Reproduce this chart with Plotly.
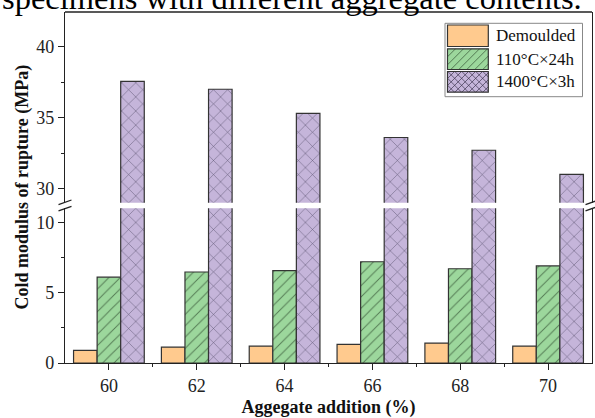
import plotly.graph_objects as go

# ---------------- data ----------------
aggregate = [60, 62, 64, 66, 68, 70]
demoulded = [0.9, 1.13, 1.2, 1.32, 1.42, 1.2]
dried_110 = [6.1, 6.47, 6.57, 7.2, 6.7, 6.9]
fired_1400 = [37.55, 37.0, 35.3, 33.6, 32.7, 31.0]
series_names = ["Demoulded", "110°C×24h", "1400°C×3h"]

# ---------------- style ----------------
FONT = "Liberation Serif"
C_OR = "#FFCA8E"
C_GR = "#9CD79C"
C_PU = "#C5B5DA"
EDGE = "#333333"

# plot area in pixels
L, R, T, B = 65, 592, 12, 363
W, H = R - L, B - T


def px(x):
    return (x - L) / W


def py(y):
    return (B - y) / H


low_dom = [0, py(208.3)]
up_dom = [py(202.7), 1]

fig = go.Figure()

patterns = [
    dict(shape=""),
    dict(shape="/", size=8, solidity=0.12, fgcolor="#3a5a3a", fgopacity=0.75),
    dict(shape="x", size=10, solidity=0.1, fgcolor="#3d3550", fgopacity=0.75),
]
colors = [C_OR, C_GR, C_PU]
values = [demoulded, dried_110, fired_1400]

for yax in ["y", "y2"]:
    for name, vals, col, pat in zip(series_names, values, colors, patterns):
        fig.add_trace(go.Bar(
            x=aggregate, y=vals, name=name, yaxis=yax, xaxis="x",
            marker=dict(color=col, line=dict(color=EDGE, width=1.2), pattern=pat),
            showlegend=False,
        ))

axis_font = dict(family=FONT, size=18, color="#222")
fig.update_layout(
    width=595, height=418,
    margin=dict(l=L, r=595 - R, t=T, b=418 - B),
    paper_bgcolor="white", plot_bgcolor="white",
    barmode="group", bargap=0.195, bargroupgap=0,
    showlegend=False,
    font=dict(family=FONT, size=18, color="#222"),
    xaxis=dict(
        range=[59, 71], tickvals=aggregate, ticks="outside", ticklen=6,
        tickwidth=1.2, tickcolor="#222", showline=True, linecolor="#222",
        linewidth=1.3, showgrid=False, zeroline=False, tickfont=axis_font,
        minor=dict(tickvals=[61, 63, 65, 67, 69], ticks="outside", ticklen=3,
                   tickcolor="#222", tickwidth=1.2),
        title=dict(text="<b>Aggegate addition (%)</b>", font=dict(family=FONT, size=18, color="#111"),
                   standoff=6),
        anchor="y",
    ),
    yaxis=dict(
        domain=low_dom, range=[0, 11], tickvals=[0, 5, 10], ticks="outside",
        ticklen=6, tickwidth=1.2, tickcolor="#222", showline=True,
        linecolor="#222", linewidth=1.3, mirror=True, showgrid=False,
        zeroline=False, tickfont=axis_font,
        minor=dict(tickvals=[2.5, 7.5], ticks="outside", ticklen=3,
                   tickcolor="#222", tickwidth=1.2),
    ),
    yaxis2=dict(
        domain=up_dom, range=[29, 42.45], tickvals=[30, 35, 40], ticks="outside",
        ticklen=6, tickwidth=1.2, tickcolor="#222", showline=True,
        linecolor="#222", linewidth=1.3, mirror=True, showgrid=False,
        zeroline=False, tickfont=axis_font, anchor="x",
        minor=dict(tickvals=[32.5, 37.5], ticks="outside", ticklen=3,
                   tickcolor="#222", tickwidth=1.2),
    ),
)

shapes = []
# top frame line
shapes.append(dict(type="line", xref="paper", yref="paper", x0=0, x1=1, y0=1, y1=1,
                   line=dict(color="#222", width=1.3)))
# break marks on left and right axes
for xc in [L, R]:
    for yc in [202.3, 208.6]:
        shapes.append(dict(type="line", xref="paper", yref="paper",
                           x0=px(xc - 6.5), y0=py(yc + 2.3), x1=px(xc + 6.5), y1=py(yc - 2.3),
                           line=dict(color="#222", width=1.3)))

# ---- custom legend ----
lx0, lx1, ly0, ly1 = 445, 582.5, 23.3, 96.7
shapes.append(dict(type="rect", xref="paper", yref="paper",
                   x0=px(lx0), x1=px(lx1), y0=py(ly1), y1=py(ly0),
                   fillcolor="white", line=dict(color="#888", width=1)))

rows = [(25, 46.5), (48.8, 69.5), (71.5, 92.2)]
sx0, sx1 = 447.5, 488.3


def hatch_path(x0, y0, x1, y1, sp, kind):
    segs = []
    if kind == "/":
        c = x0 + y0 + sp
        while c < x1 + y1:
            xa = max(x0, c - y1); xb = min(x1, c - y0)
            if xb > xa:
                segs.append(((xa, c - xa), (xb, c - xb)))
            c += sp
    else:
        c = x0 - y1 + sp
        while c < x1 - y0:
            xa = max(x0, c + y0); xb = min(x1, c + y1)
            if xb > xa:
                segs.append(((xa, xa - c), (xb, xb - c)))
            c += sp
    return " ".join(f"M{px(a[0]):.5f},{py(a[1]):.5f} L{px(b[0]):.5f},{py(b[1]):.5f}" for a, b in segs)


for i, ((ry0, ry1), col) in enumerate(zip(rows, colors)):
    shapes.append(dict(type="rect", xref="paper", yref="paper",
                       x0=px(sx0), x1=px(sx1), y0=py(ry1), y1=py(ry0),
                       fillcolor=col, line=dict(width=0)))
    if i == 1:
        shapes.append(dict(type="path", xref="paper", yref="paper",
                           path=hatch_path(sx0, ry0, sx1, ry1, 8, "/"),
                           line=dict(color="rgba(58,90,58,0.75)", width=1)))
    if i == 2:
        for k in ["/", "\\"]:
            shapes.append(dict(type="path", xref="paper", yref="paper",
                               path=hatch_path(sx0, ry0, sx1, ry1, 7, k),
                               line=dict(color="rgba(61,53,80,0.7)", width=1)))
    shapes.append(dict(type="rect", xref="paper", yref="paper",
                       x0=px(sx0), x1=px(sx1), y0=py(ry1), y1=py(ry0),
                       line=dict(color=EDGE, width=1.2)))
    fig.add_annotation(x=px(494), y=py((ry0 + ry1) / 2), xref="paper", yref="paper",
                       xanchor="left", yanchor="middle", showarrow=False,
                       text=series_names[i], font=dict(family=FONT, size=17, color="#111"))

fig.update_layout(shapes=shapes)

# y-axis title spanning both segments
fig.add_annotation(x=px(22), y=0.5, xref="paper", yref="paper", textangle=-90,
                   showarrow=False, xanchor="center", yanchor="middle",
                   text="<b>Cold modulus of rupture (MPa)</b>",
                   font=dict(family=FONT, size=18, color="#111"))

# cut-off caption line at the top of the image
fig.add_annotation(x=px(0), y=py(18), xref="paper", yref="paper",
                   xanchor="left", yanchor="bottom", showarrow=False,
                   text="specimens with different aggregate contents.",
                   font=dict(family=FONT, size=32.5, color="#000"))

fig.write_html("out.html")
